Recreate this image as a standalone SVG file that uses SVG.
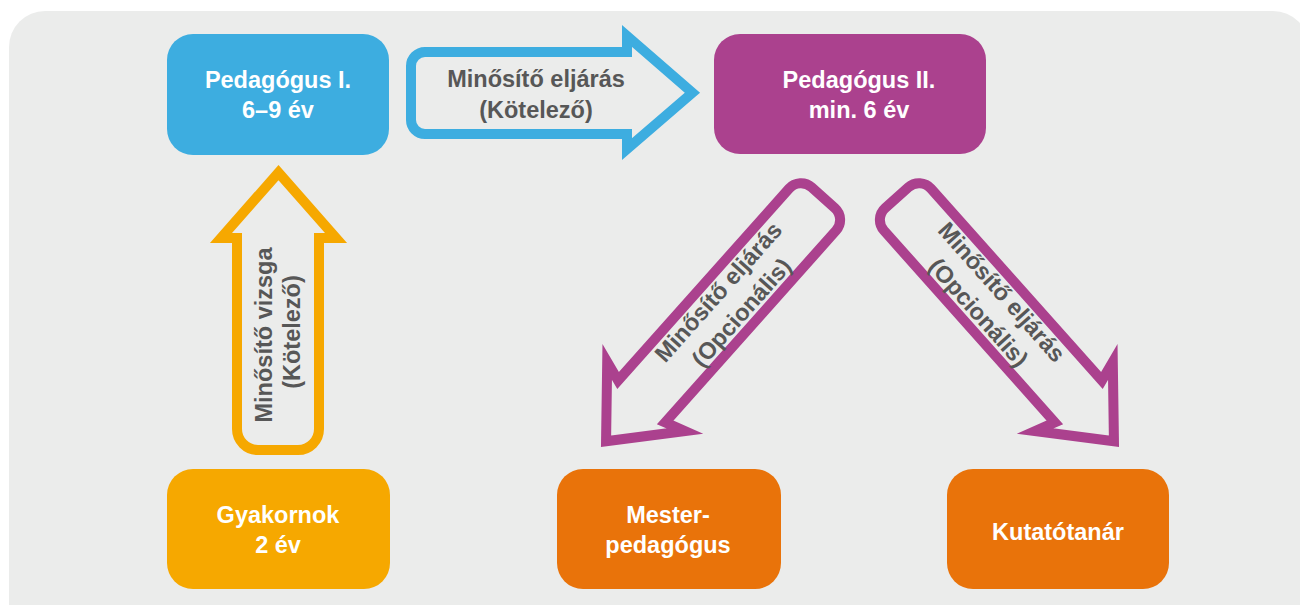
<svg xmlns="http://www.w3.org/2000/svg" width="1300" height="605" viewBox="0 0 1300 605">
<style>
.node-text{font-family:"Liberation Sans",Arial,sans-serif;font-weight:bold;font-size:23.5px;fill:#ffffff;text-anchor:middle}
.arrow-text{font-family:"Liberation Sans",Arial,sans-serif;font-weight:bold;font-size:23.5px;fill:#575757;text-anchor:middle}
.arrow{fill:#ebeceb;stroke-width:10;stroke-linejoin:miter;stroke-miterlimit:6}
</style>
<defs>
<path id="purpleArrow" d="M 0,7.6 L 52,67.7 L 31.5,61.1 L 31.5,318 A 16 16 0 0 1 15.5,334 L -15.5,334 A 16 16 0 0 1 -31.5,318 L -31.5,61.1 L -52,67.7 Z"/>
</defs>
<rect x="9" y="11" width="1300" height="650" rx="36" fill="#ebeceb"/>
<g id="connectors">
<g id="arrow-blue">
<path class="arrow" stroke="#3dade0" d="M 692.4,92.7 L 627,149 L 627,134 L 425,134 A 14 14 0 0 1 411,120 L 411,66 A 14 14 0 0 1 425,52 L 627,52 L 627,36 Z"/>
<text class="arrow-text" x="536" y="87">Minősítő eljárás</text>
<text class="arrow-text" x="536" y="118">(Kötelező)</text>
</g>
<g id="arrow-orange">
<path class="arrow" stroke="#f6a800" d="M 278.5,172.6 L 336,238 L 319,238 L 319,429 A 21 21 0 0 1 298,450 L 258,450 A 21 21 0 0 1 237,429 L 237,238 L 221,238 Z"/>
<text class="arrow-text" transform="translate(272,335) rotate(-90)">Minősítő vizsga</text>
<text class="arrow-text" transform="translate(300,332) rotate(-90)">(Kötelező)</text>
</g>
<g id="arrow-purple-left">
<use href="#purpleArrow" class="arrow" stroke="#ab418e" transform="translate(601,447) rotate(221.7)"/>
<g transform="translate(729.5,302) rotate(-48.3)">
<text class="arrow-text" x="0" y="-7">Minősítő eljárás</text>
<text class="arrow-text" x="0" y="24">(Opcionális)</text>
</g>
</g>
<g id="arrow-purple-right">
<use href="#purpleArrow" class="arrow" stroke="#ab418e" transform="translate(1119,447) rotate(138.3)"/>
<g transform="translate(990.5,302) rotate(48.3)">
<text class="arrow-text" x="0" y="-7">Minősítő eljárás</text>
<text class="arrow-text" x="0" y="24">(Opcionális)</text>
</g>
</g>
</g>
<g id="node-pedagogus1">
<rect x="167" y="34" width="222" height="121" rx="26" fill="#3dade0"/>
<text class="node-text" x="278" y="88">Pedagógus I.</text>
<text class="node-text" x="278" y="118">6–9 év</text>
</g>
<g id="node-pedagogus2">
<rect x="714" y="34" width="272" height="120" rx="26" fill="#ab418e"/>
<text class="node-text" x="859" y="88">Pedagógus II.</text>
<text class="node-text" x="859" y="118">min. 6 év</text>
</g>
<g id="node-gyakornok">
<rect x="167" y="469" width="223" height="120" rx="26" fill="#f6a800"/>
<text class="node-text" x="278" y="523">Gyakornok</text>
<text class="node-text" x="278" y="553">2 év</text>
</g>
<g id="node-mesterpedagogus">
<rect x="557" y="469" width="224" height="120" rx="26" fill="#e9730a"/>
<text class="node-text" x="668" y="523">Mester-</text>
<text class="node-text" x="668" y="553">pedagógus</text>
</g>
<g id="node-kutatotanar">
<rect x="947" y="469" width="222" height="120" rx="26" fill="#e9730a"/>
<text class="node-text" x="1058" y="540">Kutatótanár</text>
</g>
</svg>
